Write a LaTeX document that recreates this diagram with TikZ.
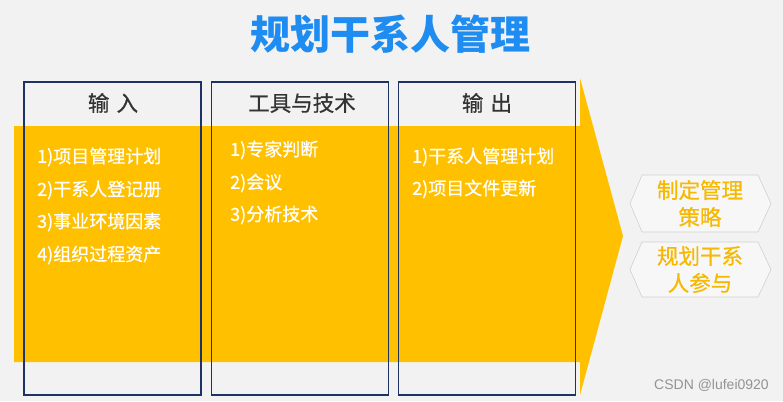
\documentclass[tikz,border=0pt]{standalone}
\usepackage{fontspec}
\newfontfamily\cjk{Noto Sans CJK SC}
\newfontfamily\cjkm[FakeBold=0.6]{Noto Sans CJK SC}
\newfontfamily\wm{Liberation Sans}
\definecolor{bg}{RGB}{242,242,242}
\definecolor{band}{RGB}{255,192,0}
\definecolor{navy}{RGB}{31,50,100}
\definecolor{titleblue}{RGB}{30,140,240}
\definecolor{hextext}{RGB}{246,184,0}
\definecolor{hexline}{RGB}{208,208,208}
\definecolor{headtext}{RGB}{51,51,51}
\begin{document}
\begin{tikzpicture}[x=1pt,y=-1pt,
  colbox/.style={draw=navy,line width=1.6pt,minimum width=177pt,minimum height=313pt,inner sep=0pt},
  headtxt/.style={font=\cjkm\fontsize{21.5}{25}\selectfont,text=headtext,inner sep=0pt},
  item/.style={font=\cjkm\fontsize{18}{20}\selectfont,text=white,anchor=west,inner sep=0pt},
  hexa/.style={draw=hexline,line width=0.6pt,fill=bg!60!white},
  hextxt/.style={font=\cjkm\fontsize{21.5}{27}\selectfont,text=hextext,align=center,inner sep=0pt}]
\fill[bg] (0,0) rectangle (783,401);
\useasboundingbox (0,0) rectangle (783,401);
% title
\node[font=\cjk\bfseries\fontsize{40}{44}\selectfont,text=titleblue,inner sep=0pt] (title) at (390,34) {规划干系人管理};
% yellow band with arrow head
\fill[band] (14,126) -- (580,126) -- (580,78) -- (623,236) -- (580,395) -- (580,362) -- (14,362) -- cycle;
% column boxes
\node[colbox] (b1) at (112.5,238.5) {};
\node[colbox] (b2) at (300,238.5) {};
\node[colbox] (b3) at (487,238.5) {};
% headers
\node[headtxt] (h1) at (113,103) {输\,\,入};
\node[headtxt] (h2) at (302,103) {工具与技术};
\node[headtxt] (h3) at (487,103) {输\,\,出};
% items column 1
\node[item] (a1) at (37,157) {1)项目管理计划};
\node[item] (a2) at (37,190) {2)干系人登记册};
\node[item] (a3) at (37,222) {3)事业环境因素};
\node[item] (a4) at (37,255) {4)组织过程资产};
% items column 2
\node[item] (t1) at (230,150) {1)专家判断};
\node[item] (t2) at (230,183) {2)会议};
\node[item] (t3) at (230,215) {3)分析技术};
% items column 3
\node[item] (o1) at (412,157) {1)干系人管理计划};
\node[item] (o2) at (412,189) {2)项目文件更新};
% hexagons
\draw[hexa] (630,203.5) -- (642,175) -- (758,175) -- (771,203.5) -- (758,232) -- (642,232) -- cycle;
\draw[hexa] (630,269.5) -- (642,242) -- (758,242) -- (771,269.5) -- (758,297) -- (642,297) -- cycle;
\node[hextxt] (x1) at (700,203.5) {制定管理\\策略};
\node[hextxt] (x2) at (700,269.5) {规划干系\\人参与};
% watermark
\node[font=\wm\fontsize{14}{16}\selectfont,text=gray!85,anchor=east,inner sep=0pt] (wm) at (769,385) {CSDN @lufei0920};
\end{tikzpicture}
\end{document}
